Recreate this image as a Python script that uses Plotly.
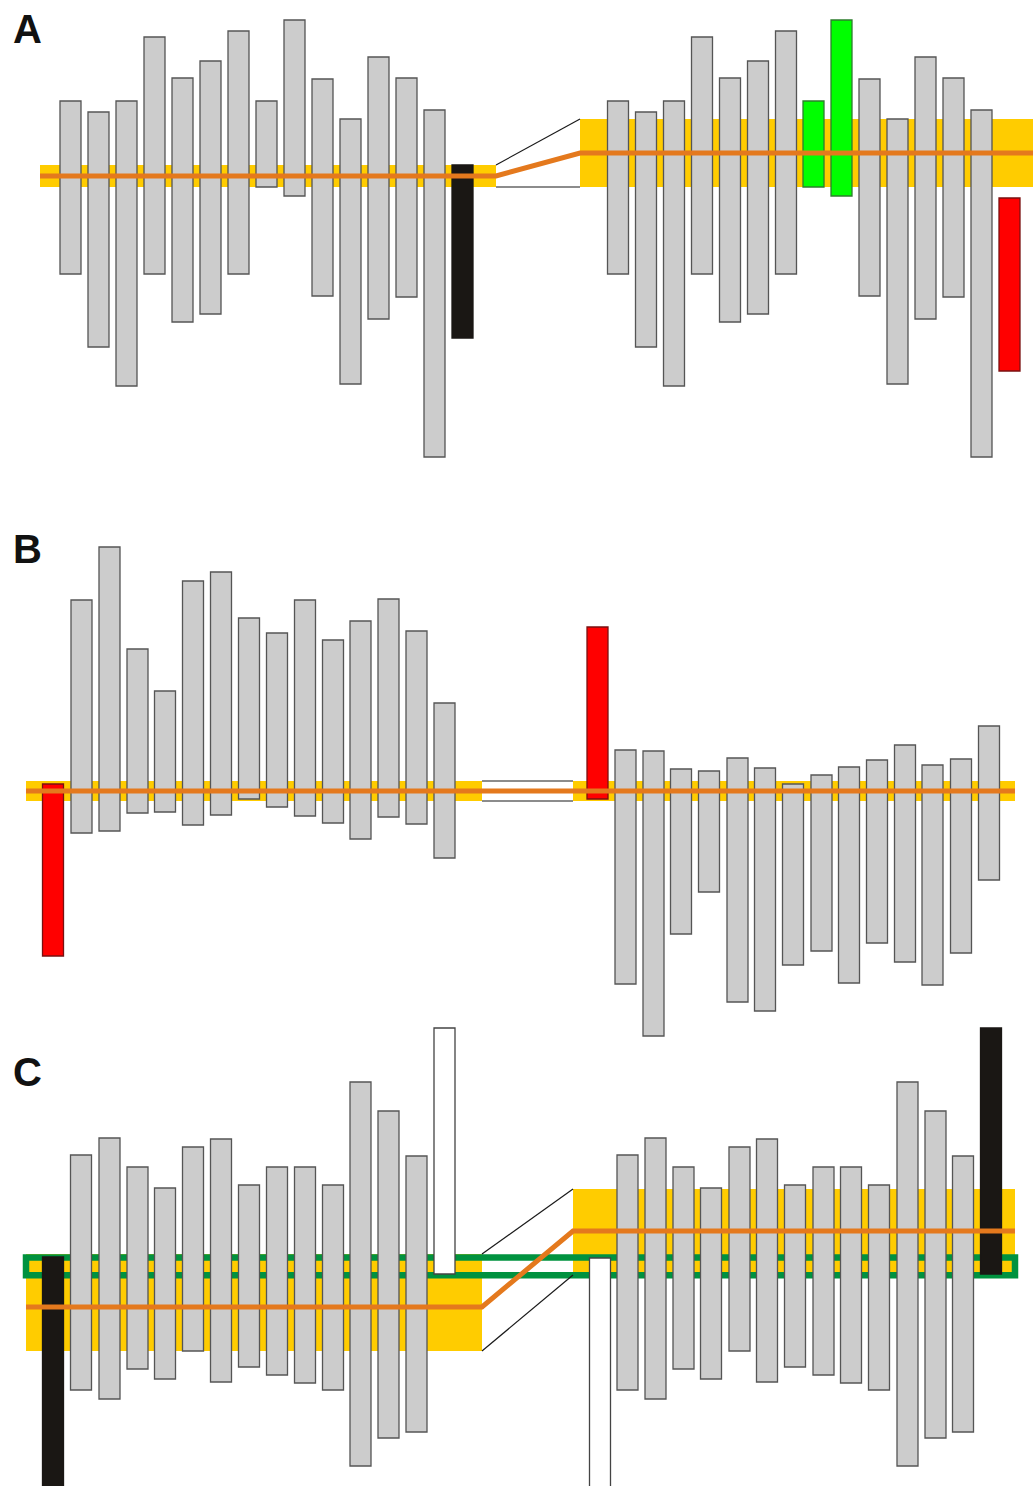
import plotly.graph_objects as go

# ---------------- DATA ----------------
# Values are offsets (in drawing units) above (+) / below (-) each panel's left baseline.

# Panel A
A_left_x = [70.5, 98.5, 126.5, 154.5, 182.5, 210.5, 238.5, 266.5, 294.5, 322.5, 350.5, 378.5, 406.5, 434.5, 462.5]
A_left_hi = [75, 64, 75, 139, 98, 115, 145, 75, 156, 97, 57, 119, 98, 66, 11]
A_left_lo = [-98, -171, -210, -98, -146, -138, -98, -11, -20, -120, -208, -143, -121, -281, -162]
A_left_kind = ["g"] * 14 + ["k"]

A_right_x = [618, 646, 674, 702, 730, 758, 786, 813.5, 841.5, 869.5, 897.5, 925.5, 953.5, 981.5, 1009.5]
A_right_hi = [75, 64, 75, 139, 98, 115, 145, 75, 156, 97, 57, 119, 98, 66, -22]
A_right_lo = [-98, -171, -210, -98, -146, -138, -98, -11, -20, -120, -208, -143, -121, -281, -195]
A_right_kind = ["g"] * 7 + ["G", "G"] + ["g"] * 5 + ["r"]

# bands: (x start, x end, low, high, orange level)
A_bands = [(40, 496, -11, 11, 0), (580, 1034, -11, 57, 23)]

# Panel B
B_left_x = [53, 81.5, 109.5, 137.5, 165, 193, 221, 249, 277, 305, 333, 360.5, 388.5, 416.5, 444.5]
B_left_hi = [7, 191, 244, 142, 100, 210, 219, 173, 158, 191, 151, 170, 192, 160, 88]
B_left_lo = [-165, -42, -40, -22, -21, -34, -24, -8, -16, -25, -32, -48, -26, -33, -67]
B_left_kind = ["r"] + ["g"] * 14

B_right_x = [597.5, 625.5, 653.5, 681, 709, 737.5, 765, 793, 821.5, 849, 877, 905, 932.5, 961, 989]
B_right_hi = [164, 41, 40, 22, 20, 33, 23, 7, 16, 24, 31, 46, 26, 32, 65]
B_right_lo = [-8, -193, -245, -143, -101, -211, -220, -174, -160, -192, -152, -171, -194, -162, -89]
B_right_kind = ["r"] + ["g"] * 14

B_bands = [(26, 482, -10, 10, 0), (573, 1015, -10, 10, 0)]

# Panel C
C_left_x = [53, 81, 109.5, 137.5, 165, 193, 221, 249, 277, 305, 333, 360.5, 388.5, 416.5, 444.5]
C_left_hi = [50, 152, 169, 140, 119, 160, 168, 122, 140, 140, 122, 225, 196, 151, 279]
C_left_lo = [-196, -83, -92, -62, -72, -44, -75, -60, -68, -76, -83, -159, -131, -125, 33]
C_left_kind = ["k"] + ["g"] * 13 + ["w"]

C_right_x = [600, 627.5, 655.5, 683.5, 711, 739.5, 767, 795, 823.5, 851, 879, 907.5, 935.5, 963, 991]
C_right_hi = [49, 152, 169, 140, 119, 160, 168, 122, 140, 140, 122, 225, 196, 151, 279]
C_right_lo = [-197, -83, -92, -62, -72, -44, -75, -60, -68, -76, -83, -159, -131, -125, 33]
C_right_kind = ["w"] + ["g"] * 13 + ["k"]

C_bands = [(26, 482, -44, 53, 0), (573, 1015, 32, 118, 76)]
C_green_frame = (26, 1015, 31.7, 49.5)

panel_letters = ["A", "B", "C"]

# ---------------- STYLE ----------------
FILL = {"g": "#CCCCCC", "G": "#00FF00", "r": "#FF0000", "k": "#1A1714", "w": "#FFFFFF"}
EDGE = {"g": "#555555", "G": "#2E7D2E", "r": "#7A1010", "k": "#1A1714", "w": "#444444"}
YELLOW = "#FFCC00"
ORANGE = "#E4791D"
GREEN_FRAME = "#00923F"
BAR_W = 21

# layout: pixel row of each panel's baseline in the 1033x1486 canvas
W, H = 1033, 1486
baselines = {"y": 176, "y2": 791, "y3": 1307}
letter_rows = [29, 549, 1072]

fig = go.Figure()


def add_bands(ax, bands):
    fig.add_trace(go.Bar(
        x=[(b[0] + b[1]) / 2 for b in bands],
        width=[b[1] - b[0] for b in bands],
        base=[b[2] for b in bands],
        y=[b[3] - b[2] for b in bands],
        marker=dict(color=YELLOW, line=dict(width=0)),
        yaxis=ax, xaxis="x", showlegend=False, hoverinfo="skip"))


def add_group(ax, xs, hi, lo, kind):
    fig.add_trace(go.Bar(
        x=xs, base=lo, y=[h - l for h, l in zip(hi, lo)], width=BAR_W,
        marker=dict(color=[FILL[k] for k in kind],
                    line=dict(color=[EDGE[k] for k in kind], width=1.3)),
        yaxis=ax, xaxis="x", showlegend=False, hoverinfo="skip"))


def add_lines(ax, bands):
    # orange level line
    ox, oy = [], []
    for b in bands:
        ox += [b[0], b[1]]
        oy += [b[4], b[4]]
    # thin connectors between band corners
    l, r = bands[0], bands[1]
    for yl, yr in [(l[3], r[3]), (l[2], r[2])]:
        fig.add_trace(go.Scatter(x=[l[1], r[0]], y=[yl, yr], mode="lines",
                                 line=dict(color="#1A1A1A", width=1.2),
                                 yaxis=ax, xaxis="x", showlegend=False, hoverinfo="skip"))
    fig.add_trace(go.Scatter(x=ox, y=oy, mode="lines",
                             line=dict(color=ORANGE, width=5),
                             yaxis=ax, xaxis="x", showlegend=False, hoverinfo="skip"))


# Panel A
add_bands("y", A_bands)
add_group("y", A_left_x, A_left_hi, A_left_lo, A_left_kind)
add_group("y", A_right_x, A_right_hi, A_right_lo, A_right_kind)
add_lines("y", A_bands)

# Panel B
add_bands("y2", B_bands)
add_group("y2", B_left_x, B_left_hi, B_left_lo, B_left_kind)
add_group("y2", B_right_x, B_right_hi, B_right_lo, B_right_kind)
add_lines("y2", B_bands)

# Panel C
add_bands("y3", C_bands)
gx0, gx1, glo, ghi = C_green_frame
fig.add_trace(go.Bar(x=[(gx0 + gx1) / 2], width=[gx1 - gx0], base=[glo], y=[ghi - glo],
                     marker=dict(color="rgba(0,0,0,0)", line=dict(color=GREEN_FRAME, width=6.5)),
                     yaxis="y3", xaxis="x", showlegend=False, hoverinfo="skip"))
add_group("y3", C_left_x, C_left_hi, C_left_lo, C_left_kind)
add_group("y3", C_right_x, C_right_hi, C_right_lo, C_right_kind)
add_lines("y3", C_bands)

hidden = dict(visible=False, showgrid=False, zeroline=False, fixedrange=True)
layout_axes = {"xaxis": dict(range=[0, W], domain=[0, 1], **hidden)}
for i, ax in enumerate(["y", "y2", "y3"]):
    name = "yaxis" if ax == "y" else "yaxis" + ax[1:]
    b = baselines[ax]
    cfg = dict(range=[b - H, b], domain=[0, 1], **hidden)
    if ax != "y":
        cfg["overlaying"] = "y"
    layout_axes[name] = cfg

annotations = [dict(text="<b>%s</b>" % t, xref="paper", yref="paper",
                    x=11 / W, y=1 - r / H, xanchor="left", yanchor="middle",
                    showarrow=False,
                    font=dict(family="Liberation Sans, Arial, sans-serif", size=40, color="#111111"))
               for t, r in zip(panel_letters, letter_rows)]

fig.update_layout(width=W, height=H, margin=dict(l=0, r=0, t=0, b=0, pad=0),
                  paper_bgcolor="white", plot_bgcolor="white",
                  barmode="overlay", bargap=0, annotations=annotations, **layout_axes)

fig.write_html("out.html", config={"displayModeBar": False, "staticPlot": True},
               post_script="document.body.style.margin='0';document.body.style.overflow='hidden';")
